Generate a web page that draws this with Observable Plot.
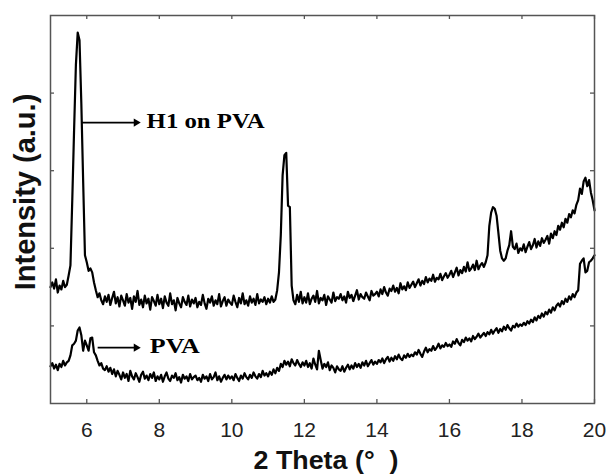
<!DOCTYPE html>
<html><head><meta charset="utf-8">
<script src="https://cdn.jsdelivr.net/npm/d3@7"></script>
<script src="https://cdn.jsdelivr.net/npm/@observablehq/plot@0.6"></script>
<style>html,body{margin:0;padding:0;background:#fff}</style>
</head><body><div id="chart"></div>
<script>
// 2θ sampling grid of the scans
const xStart = 5, xStep = 0.05;

// H1 on PVA (upper trace), one row per degree (5.00 … 19.95), then 20.00
const h1OnPva = [
 150,156,148,160,143,152,147,158,150,153,165,178,262,352,436,478,468,387,287,191,
 182,171,174,169,156,146,137,142,133,128,138,131,140,127,136,144,129,137,125,139,
 133,126,141,130,136,122,138,131,145,127,134,124,139,129,135,121,137,132,126,140,
 128,135,123,138,130,126,142,128,133,120,136,129,124,137,131,127,139,125,134,129,
 136,124,131,127,140,129,122,135,130,138,126,133,128,141,125,132,137,126,134,130,
 127,139,131,124,136,129,142,128,133,126,138,130,135,127,141,129,134,131,137,128,
 135,130,138,131,134,146,169,217,294,320,323,255,253,152,133,128,140,131,144,129,
 137,130,142,128,135,139,131,145,129,136,133,140,127,138,134,130,143,132,137,135,
 141,133,138,130,144,136,140,132,139,146,134,141,137,135,143,138,133,145,139,141,
 144,138,147,141,150,143,139,148,145,152,144,149,142,155,147,151,146,156,149,153,
 157,150,155,160,152,158,154,163,156,161,158,166,157,162,160,167,159,164,168,162,
 166,171,163,169,175,165,172,168,176,170,182,171,174,179,172,184,173,178,181,176,
 182,191,229,246,253,251,242,220,197,187,184,187,197,204,222,202,199,206,194,200,
 197,205,195,202,208,199,204,212,201,209,203,213,207,211,216,206,219,213,222,217,
 229,224,233,227,238,233,244,240,249,245,256,262,277,270,286,291,280,288,272,262,
 249
];

// PVA (lower trace)
const pva = [
 48,52,45,50,43,51,47,55,49,53,55,62,75,77,81,94,98,88,68,81,
 75,68,84,85,66,62,55,49,52,45,43,48,41,46,38,44,35,42,37,31,
 40,33,38,29,42,35,31,39,34,28,37,41,32,36,30,38,33,40,29,35,
 31,37,28,35,40,32,29,36,33,39,30,34,27,37,32,35,29,38,31,34,
 36,30,33,28,37,32,35,29,38,31,34,40,30,35,28,33,37,31,36,32,
 35,30,38,33,29,36,32,39,34,31,37,33,40,35,32,38,34,42,36,39,
 35,41,37,44,39,46,42,51,47,55,50,54,48,57,52,49,56,51,47,53,
 49,55,47,52,45,58,50,44,68,56,45,51,47,53,43,49,46,40,48,44,
 42,48,41,46,50,44,49,45,52,47,51,46,53,49,55,48,52,56,50,54,
 51,56,53,58,52,57,60,54,59,55,61,57,63,58,56,62,59,64,60,63,
 61,66,63,69,64,60,67,72,66,70,68,74,69,72,77,71,75,73,78,74,
 76,73,80,77,83,78,75,82,79,85,81,84,80,87,83,86,90,85,88,91,
 87,92,89,95,90,94,97,91,96,93,99,95,101,97,94,100,98,103,99,102,
 100,104,101,106,103,108,105,111,107,113,110,116,112,118,115,121,117,124,120,126,
 129,125,132,128,135,131,138,134,141,137,143,146,180,184,187,169,171,182,184,187,
 191
];

const xTicks = [6, 8, 10, 12, 14, 16, 18, 20];
const yTicks = [100, 200, 300, 400];
const xLabel = "2 Theta (°\u00a0\u00a0)";
const yLabel = "Intensity (a.u.)";
const labels = ["H1 on PVA", "PVA"];
const arrowFrom = [5.86, 6.30];
const arrowTo = [7.36, 7.36];
const arrowY = [362, 72];
const labelX = [7.65, 7.74];
const labelY = [364, 74];

const toRows = vals => vals.map((v, i) => ({x: xStart + i * xStep, y: v}));
const notes = labels.map((name, i) => ({name, x1: arrowFrom[i], x2: arrowTo[i], y: arrowY[i], tx: labelX[i], ty: labelY[i]}));

const sans = "'Liberation Sans', Arial, Helvetica, sans-serif";
const serif = "'Liberation Serif', 'Times New Roman', serif";
const frameColor = "#555";

const plot = Plot.plot({
  width: 607, height: 476,
  marginLeft: 50, marginRight: 13, marginTop: 15, marginBottom: 73,
  style: {fontFamily: sans, fontSize: "21px", color: "#222", background: "#fff"},
  x: {domain: [5, 20], axis: null},
  y: {domain: [0, 500], axis: null},
  marks: [
    Plot.ruleX(xTicks, {x: d => d, insetTop: 384, stroke: frameColor, strokeWidth: 1.3}),
    Plot.ruleX(xTicks, {x: d => d, insetBottom: 384, stroke: frameColor, strokeWidth: 1.3}),
    Plot.ruleY(yTicks, {y: d => d, insetRight: 540, stroke: frameColor, strokeWidth: 1.3}),
    Plot.ruleY(yTicks, {y: d => d, insetLeft: 540, stroke: frameColor, strokeWidth: 1.3}),
    Plot.axisX(xTicks, {anchor: "bottom", tickSize: 0, tickPadding: 19, fontSize: 21, label: null, fill: "#222"}),
    Plot.line(toRows(pva), {x: "x", y: "y", stroke: "#000", strokeWidth: 2.2}),
    Plot.line(toRows(h1OnPva), {x: "x", y: "y", stroke: "#000", strokeWidth: 2.2}),
    Plot.frame({stroke: frameColor, strokeWidth: 1.5}),
    Plot.link(notes, {x1: "x1", x2: "x2", y1: "y", y2: "y", stroke: "#000", strokeWidth: 1.6}),
    Plot.dot(notes, {x: "x2", y: "y", symbol: "triangle", rotate: 90, r: 3, fill: "#000", stroke: null}),
    Plot.text(notes, {x: "tx", y: "ty", text: "name", textAnchor: "start", fontFamily: serif, fontWeight: "bold", fontSize: 22, fill: "#000"}),
    Plot.text([xLabel], {text: d => d, frameAnchor: "bottom", textAnchor: "middle", lineAnchor: "middle", dy: 57, dx: 3.5, fontWeight: "bold", fontSize: 26, fill: "#111"}),
    Plot.text([yLabel], {text: d => d, frameAnchor: "left", textAnchor: "middle", lineAnchor: "middle", dx: -25, dy: -17.5, rotate: -90, fontWeight: "bold", fontSize: 29, fill: "#111"})
  ]
});

const lengths = {[xLabel]: 145, "H1 on PVA": 118, "PVA": 50};
d3.select(plot).selectAll("text").each(function () {
  const L = lengths[this.textContent];
  if (L) { this.setAttribute("textLength", L); this.setAttribute("lengthAdjust", "spacingAndGlyphs"); }
});
document.getElementById("chart").appendChild(plot);
</script>
</body></html>
